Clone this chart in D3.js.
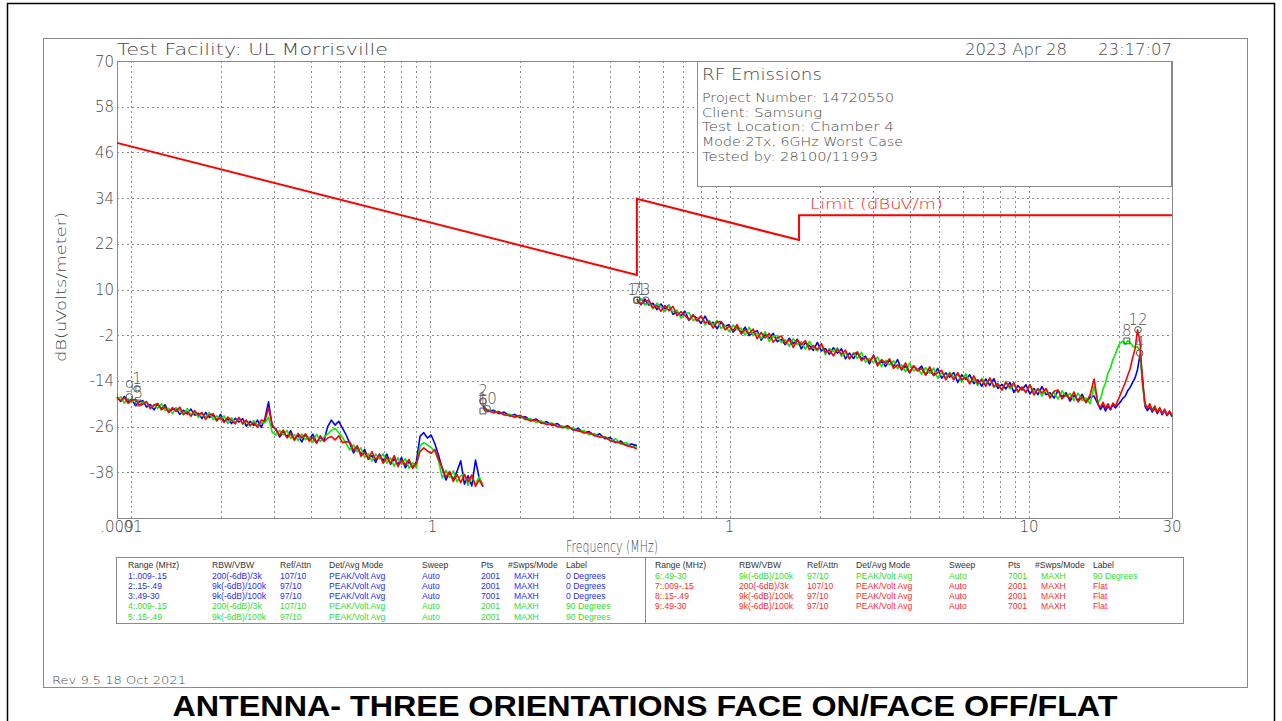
<!DOCTYPE html>
<html>
<head>
<meta charset="utf-8">
<script src="https://cdn.jsdelivr.net/npm/d3@7/dist/d3.min.js"></script>
<style>
  html, body { margin: 0; padding: 0; background: #fff; }
  svg { display: block; }
  .pen { font-family: "DejaVu Sans", sans-serif; font-weight: 200; fill: #474747; }
  .tbl { font-family: "Liberation Sans", "DejaVu Sans", sans-serif; font-size: 8.6px; }
</style>
</head>
<body>
<svg id="chart" width="1282" height="721"></svg>
<script>
// ---------- sweep ranges (MHz) ----------
const rangeLow  = [0.009, 0.15];
const rangeMid  = [0.15, 0.49];
const rangeHigh = [0.49, 17];
const rangePeak = [17, 30];

// ---------- measured levels, dB(uV/m), 0 Degrees (blue) ----------
const blueLow = [-18.2, -19.4, -18.1, -19.4, -18.8, -20.5, -19.5, -19.2, -20.9, -20.2, -21.6, -20.1, -21.3, -20.3, -22.2, -21.5, -21.2, -22.8, -21.7, -22.7, -21.4, -23.0, -22.5, -23.9, -22.3, -23.6, -23.0, -24.5, -22.8, -24.6, -24.0, -25.2, -23.8, -24.8, -23.9, -25.9, -24.6, -25.7, -24.3, -26.2, -24.0, -19.5, -26.0, -26.6, -28.7, -27.5, -28.7, -27.1, -29.4, -28.3, -30.0, -28.1, -29.4, -28.0, -30.2, -28.8, -29.7, -26.0, -24.3, -25.6, -24.6, -26.4, -28.2, -30.4, -32.9, -31.3, -33.3, -32.0, -34.6, -33.6, -35.4, -33.2, -35.0, -33.2, -35.9, -34.5, -36.0, -34.1, -36.8, -35.1, -36.8, -35.2, -28.5, -27.6, -29.0, -28.2, -30.5, -33.5, -37.0, -40.0, -38.0, -40.0, -37.7, -35.0, -41.1, -38.9, -41.6, -34.8, -39.5, -41.8];
const blueMid = [-20.6, -22.0, -21.7, -22.6, -22.2, -23.2, -22.8, -23.7, -23.4, -24.5, -24.0, -25.1, -24.7, -25.7, -25.2, -26.2, -25.8, -26.9, -26.5, -27.6, -27.3, -28.4, -27.9, -29.2, -28.9, -30.2, -29.8, -30.9, -30.6, -31.0];
const blueHigh = [7.5, 6.0, 7.5, 5.9, 6.4, 4.7, 6.2, 4.9, 5.9, 3.5, 4.1, 3.1, 4.3, 1.9, 3.2, 2.5, 1.1, 3.0, 0.9, 1.4, -0.3, 1.5, 0.3, 0.8, -1.2, 0.0, -1.3, 0.1, -2.1, -1.3, -0.8, -3.3, -1.7, -2.8, -1.5, -3.7, -3.1, -4.5, -2.8, -4.2, -3.1, -5.6, -4.0, -4.7, -6.0, -3.9, -6.1, -5.5, -7.0, -5.3, -6.7, -5.6, -8.2, -6.7, -8.1, -6.6, -8.2, -7.5, -9.5, -7.2, -9.6, -8.8, -10.2, -8.6, -10.2, -8.4, -11.1, -10.1, -11.9, -10.1, -11.1, -10.1, -12.4, -11.2, -12.5, -10.7, -13.3, -11.9, -13.0, -11.8, -14.4, -12.4, -13.6, -12.4, -14.7, -13.7, -15.4, -13.5, -15.2, -13.4, -16.0, -14.9, -16.1, -14.4, -17.0, -15.2, -16.4, -15.0, -17.4, -16.0, -17.6, -15.5, -17.6, -17.1, -18.5, -16.5, -18.2, -17.1, -19.3, -17.8, -19.2, -17.5, -19.7, -18.3, -18.0, -20.2];
const bluePeak = [-20.8, -21.5, -20.4, -21.9, -20.6, -21.6, -20.2, -21.1, -20.3, -19.6, -18.6, -18.0, -16.6, -15.7, -14.4, -13.2, -11.0, -7.2, -13.0, -20.6, -21.8, -20.9, -22.2, -21.1, -22.6, -21.4, -22.9, -21.8, -23.1, -22.2, -23.4];

// ---------- 90 Degrees (green) ----------
const greenLow = [-18.9, -18.2, -19.8, -18.7, -19.6, -18.7, -20.5, -19.7, -19.4, -21.3, -20.2, -21.2, -20.0, -21.8, -21.2, -22.6, -21.1, -21.7, -22.9, -21.3, -22.9, -22.0, -23.6, -22.6, -23.5, -22.3, -24.2, -23.2, -24.1, -23.2, -25.2, -23.7, -24.9, -23.7, -25.4, -24.6, -25.9, -24.4, -25.6, -25.0, -25.0, -23.5, -27.5, -28.2, -27.0, -28.1, -27.0, -29.1, -28.1, -29.7, -27.9, -29.4, -28.8, -30.1, -28.0, -29.9, -28.7, -28.0, -27.0, -26.5, -27.6, -28.8, -30.5, -32.1, -30.8, -32.6, -31.6, -34.1, -33.1, -35.1, -33.2, -34.5, -33.1, -35.6, -34.2, -36.4, -34.2, -35.9, -34.4, -36.9, -35.5, -36.9, -31.0, -30.2, -30.8, -31.5, -32.6, -35.0, -39.5, -37.5, -39.4, -37.6, -40.5, -38.9, -38.5, -41.4, -39.2, -41.1, -39.1, -41.3];
const greenMid = [-21.5, -21.5, -22.4, -22.0, -23.0, -22.7, -23.6, -23.2, -24.2, -23.9, -24.9, -24.5, -25.5, -25.0, -26.1, -25.8, -26.6, -26.2, -27.3, -27.0, -28.1, -27.8, -28.8, -28.6, -29.7, -29.2, -30.6, -30.2, -31.4, -31.3];
const greenHigh = [6.6, 7.6, 5.9, 6.5, 4.9, 6.4, 5.5, 4.2, 5.8, 4.1, 4.6, 2.5, 3.7, 3.9, 1.9, 2.2, 3.1, 0.7, 1.9, 0.7, 1.9, -0.2, 0.6, -1.1, 0.7, -0.6, -0.1, -2.0, 0.1, -2.1, -1.4, -2.9, -1.1, -3.6, -2.3, -2.1, -3.9, -3.2, -4.9, -2.9, -4.5, -3.7, -5.7, -3.6, -5.3, -6.1, -4.5, -7.1, -5.5, -6.3, -5.3, -7.6, -6.6, -8.2, -6.6, -8.1, -6.5, -9.1, -8.1, -9.2, -7.7, -10.3, -8.6, -9.8, -8.7, -10.8, -9.8, -11.6, -9.3, -11.4, -10.8, -12.2, -10.5, -12.0, -10.6, -13.3, -11.7, -13.1, -11.7, -13.0, -12.2, -14.3, -12.1, -14.4, -13.5, -15.2, -13.3, -14.9, -13.5, -15.8, -14.6, -16.4, -14.1, -16.1, -15.0, -16.9, -15.8, -17.1, -15.0, -16.9, -16.1, -18.0, -16.0, -17.9, -17.0, -18.8, -16.6, -18.1, -17.3, -19.2, -17.2, -19.2, -18.5, -20.0, -15.5, -19.8];
const greenPeak = [-19.5, -18.6, -16.2, -14.5, -12.0, -10.6, -8.4, -7.0, -5.2, -4.0, -3.6, -4.4, -3.4, -4.0, -4.8, -5.3, -5.0, -6.2, -15.0, -20.2, -21.0, -20.4, -21.6, -20.8, -22.0, -21.2, -22.5, -21.6, -22.8, -22.0, -23.0];

// ---------- Flat (red) ----------
const redLow = [-18.5, -19.2, -18.4, -19.9, -19.1, -18.8, -20.3, -20.1, -19.5, -21.2, -20.4, -19.9, -21.6, -20.8, -22.3, -21.0, -22.0, -20.9, -22.8, -22.1, -23.3, -21.8, -23.0, -22.3, -24.1, -22.9, -22.6, -24.3, -23.7, -24.9, -23.5, -24.4, -25.3, -23.6, -25.2, -24.3, -25.7, -25.0, -26.2, -24.3, -24.6, -21.0, -25.5, -27.0, -28.2, -26.9, -29.0, -27.8, -29.6, -27.8, -29.0, -27.9, -29.8, -28.8, -30.4, -28.4, -29.9, -29.0, -28.6, -29.5, -28.4, -30.2, -30.0, -30.0, -32.3, -31.0, -33.8, -32.8, -34.4, -32.6, -34.7, -33.4, -35.6, -34.1, -35.7, -33.6, -36.5, -34.8, -36.0, -34.6, -36.9, -35.6, -32.5, -31.6, -32.4, -33.0, -32.0, -34.6, -36.8, -39.3, -37.8, -40.4, -38.6, -40.7, -38.6, -40.5, -38.7, -41.7, -40.0, -41.6];
const redMid = [-21.0, -21.9, -22.3, -22.1, -22.9, -23.1, -23.5, -23.0, -24.0, -24.4, -24.3, -25.0, -25.4, -25.3, -25.9, -26.3, -26.0, -26.8, -27.1, -27.6, -27.6, -28.3, -28.7, -28.8, -29.7, -30.1, -30.3, -31.0, -31.3, -31.8];
const redHigh = [7.2, 6.2, 6.9, 7.2, 5.2, 5.8, 4.3, 5.8, 4.4, 5.6, 3.1, 4.2, 3.1, 2.0, 3.4, 1.7, 3.0, 1.3, 1.6, -0.1, 1.5, 1.6, -0.6, 0.4, -0.8, 0.8, -1.7, -0.6, -1.5, -0.4, -2.9, -1.3, -2.7, -1.5, -3.8, -2.7, -2.2, -4.2, -3.1, -5.2, -3.3, -4.5, -3.4, -5.8, -4.7, -5.8, -4.2, -6.5, -5.9, -7.4, -5.6, -7.0, -5.9, -8.2, -6.9, -6.4, -8.7, -7.8, -8.9, -7.4, -10.1, -8.4, -9.4, -8.2, -10.7, -9.8, -10.9, -9.3, -11.8, -10.0, -11.4, -10.7, -12.5, -10.3, -12.6, -11.8, -11.2, -13.7, -12.1, -13.7, -11.8, -13.7, -13.1, -14.8, -12.7, -14.7, -13.7, -15.4, -13.2, -15.4, -14.8, -16.4, -14.4, -15.6, -14.5, -16.9, -15.6, -17.0, -15.0, -17.7, -16.0, -17.2, -16.0, -18.5, -16.7, -16.4, -18.7, -17.6, -18.7, -16.9, -19.5, -18.2, -19.6, -17.7, -13.5, -20.3];
const redPeak = [-19.8, -20.9, -19.6, -21.2, -20.0, -21.4, -19.8, -20.6, -19.2, -17.6, -16.0, -14.5, -12.6, -10.8, -8.0, -5.6, -0.6, -3.5, -14.0, -19.8, -21.2, -20.0, -21.9, -20.6, -22.3, -21.0, -22.6, -21.4, -23.0, -21.9, -23.2];

// ---------- limit line, dB(uV/m) ----------
const limitFreq  = [0.009, 0.49, 0.49, 1.705, 1.705, 30];
const limitLevel = [48.5, 13.8, 33.8, 23.0, 29.5, 29.5];

// ---------- markers ----------
const markerLabel = ["1", "2", "3", "4", "5", "6", "7", "8", "9", "10", "11", "12"];
const markerFreq  = [0.0105, 0.15, 0.525, 23.4, 0.0106, 0.15, 0.49, 21.2, 0.0099, 0.155, 0.49, 23.1];
const markerLevel = [-16.1, -19.3, 7.2, -6.7, -19.8, -21.9, 7.2, -3.5, -18.2, -21.3, 7.2, -0.6];
const markerTrace = ["blue", "blue", "blue", "blue", "green", "green", "green", "green", "red", "red", "red", "red"];

// ---------- axes ----------
const yTickValues = [70, 58, 46, 34, 22, 10, -2, -14, -26, -38];
const xTickValues = [0.009, 0.01, 0.1, 1, 10, 30];
const xTickLabels = [".009", ".01", ".1", "1", "10", "30"];

// ---------- settings table ----------
const tblHeaders  = ["Range (MHz)", "RBW/VBW", "Ref/Attn", "Det/Avg Mode", "Sweep", "Pts", "#Swps/Mode", "Label"];
const tblRange    = ["1:.009-.15", "2:.15-.49", "3:.49-30", "4:.009-.15", "5:.15-.49", "6:.49-30", "7:.009-.15", "8:.15-.49", "9:.49-30"];
const tblRbw      = ["200(-6dB)/3k", "9k(-6dB)/100k", "9k(-6dB)/100k", "200(-6dB)/3k", "9k(-6dB)/100k", "9k(-6dB)/100k", "200(-6dB)/3k", "9k(-6dB)/100k", "9k(-6dB)/100k"];
const tblRefAttn  = ["107/10", "97/10", "97/10", "107/10", "97/10", "97/10", "107/10", "97/10", "97/10"];
const tblDetMode  = ["PEAK/Volt Avg", "PEAK/Volt Avg", "PEAK/Volt Avg", "PEAK/Volt Avg", "PEAK/Volt Avg", "PEAK/Volt Avg", "PEAK/Volt Avg", "PEAK/Volt Avg", "PEAK/Volt Avg"];
const tblSweep    = ["Auto", "Auto", "Auto", "Auto", "Auto", "Auto", "Auto", "Auto", "Auto"];
const tblPts      = ["2001", "2001", "7001", "2001", "2001", "7001", "2001", "2001", "7001"];
const tblSwps     = ["MAXH", "MAXH", "MAXH", "MAXH", "MAXH", "MAXH", "MAXH", "MAXH", "MAXH"];
const tblLabel    = ["0 Degrees", "0 Degrees", "0 Degrees", "90 Degrees", "90 Degrees", "90 Degrees", "Flat", "Flat", "Flat"];
const tblTrace    = ["blue", "blue", "blue", "green", "green", "green", "red", "red", "red"];

const infoLines = ["Project Number: 14720550", "Client: Samsung", "Test Location: Chamber 4", "Mode:2Tx, 6GHz Worst Case", "Tested by: 28100/11993"];

// ---------- drawing ----------
const traceColor = { blue: "#0000ff", green: "#00ee00", red: "#ff0000" };
const textColor  = { blue: "#2b2bff", green: "#2fdc2f", red: "#ff2b2b" };

const svg = d3.select("#chart");
const plot = { left: 117, right: 1172, top: 61, bottom: 518 };

const x = d3.scaleLog().domain([0.009, 30]).range([plot.left, plot.right]);
const y = d3.scaleLinear().domain([-50, 70]).range([plot.bottom, plot.top]);

// page frames
svg.append("rect").attr("x", 7.5).attr("y", 3.5).attr("width", 1267).attr("height", 740)
  .attr("fill", "none").attr("stroke", "#000").attr("stroke-width", 1.5);
svg.append("rect").attr("x", 43.5).attr("y", 38.5).attr("width", 1204).attr("height", 649)
  .attr("fill", "none").attr("stroke", "#8a8a8a").attr("stroke-width", 1);

// grid
const gridStyle = g => g.attr("stroke", "#8c8c8c").attr("stroke-width", 1).attr("stroke-dasharray", "2,3");
const xGrid = x.ticks().filter(f => f > 0.009 * 1.0001 && f < 30 * 0.9999);
svg.append("g").selectAll("line").data(xGrid).join("line")
  .attr("x1", d => Math.round(x(d)) + 0.5).attr("x2", d => Math.round(x(d)) + 0.5)
  .attr("y1", plot.top).attr("y2", plot.bottom).call(gridStyle);
svg.append("g").selectAll("line").data(yTickValues.filter(v => v < 70)).join("line")
  .attr("x1", plot.left).attr("x2", plot.right)
  .attr("y1", d => Math.round(y(d)) + 0.5).attr("y2", d => Math.round(y(d)) + 0.5).call(gridStyle);

// info panel
svg.append("rect").attr("x", 697.5).attr("y", 61.5).attr("width", 474).attr("height", 125)
  .attr("fill", "#fff").attr("stroke", "#8a8a8a");
svg.append("text").attr("class", "pen").attr("x", 702).attr("y", 80)
  .attr("font-size", 15).attr("textLength", 120).attr("lengthAdjust", "spacingAndGlyphs").text("RF Emissions");
const infoWidths = [192, 120, 192, 201, 176];
svg.append("g").selectAll("text").data(infoLines).join("text").attr("class", "pen")
  .attr("x", 702).attr("y", (d, i) => 102 + i * 14.7).attr("font-size", 13)
  .attr("textLength", (d, i) => infoWidths[i]).attr("lengthAdjust", "spacingAndGlyphs").text(d => d);

// plot border
svg.append("rect").attr("x", plot.left + 0.5).attr("y", plot.top + 0.5)
  .attr("width", plot.right - plot.left).attr("height", plot.bottom - plot.top)
  .attr("fill", "none").attr("stroke", "#8a8a8a");

// y tick labels
svg.append("g").selectAll("text").data(yTickValues).join("text").attr("class", "pen")
  .attr("x", 114).attr("y", d => y(d) + 5.5).attr("text-anchor", "end")
  .attr("font-size", 15).text(d => d);

// x tick labels
svg.append("g").selectAll("text").data(xTickValues).join("text").attr("class", "pen")
  .attr("x", d => x(d)).attr("y", 532).attr("text-anchor", "middle")
  .attr("font-size", 15).text((d, i) => xTickLabels[i]);

// axis titles and header texts
svg.append("text").attr("class", "pen").attr("x", 612).attr("y", 552).attr("text-anchor", "middle")
  .attr("font-size", 15).attr("textLength", 92).attr("lengthAdjust", "spacingAndGlyphs").text("Frequency (MHz)");
svg.append("text").attr("class", "pen").attr("transform", "translate(66,287) rotate(-90)")
  .attr("text-anchor", "middle").attr("font-size", 14).attr("textLength", 150)
  .attr("lengthAdjust", "spacingAndGlyphs").text("dB(uVolts/meter)");
svg.append("text").attr("class", "pen").attr("x", 117).attr("y", 55).attr("font-size", 15)
  .attr("textLength", 271).attr("lengthAdjust", "spacingAndGlyphs").text("Test Facility: UL Morrisville");
svg.append("text").attr("class", "pen").attr("x", 965).attr("y", 55).attr("font-size", 15)
  .attr("textLength", 102).attr("lengthAdjust", "spacingAndGlyphs").text("2023 Apr 28");
svg.append("text").attr("class", "pen").attr("x", 1098).attr("y", 55).attr("font-size", 15)
  .attr("textLength", 74).attr("lengthAdjust", "spacingAndGlyphs").text("23:17:07");

// limit line
const limitLine = d3.line().x(d => x(d[0])).y(d => y(d[1]));
svg.append("path").datum(limitFreq.map((f, i) => [f, limitLevel[i]]))
  .attr("d", limitLine).attr("fill", "none").attr("stroke", "#ff0000").attr("stroke-width", 2);
svg.append("text").attr("class", "pen").attr("x", 810).attr("y", 209).attr("font-size", 14)
  .attr("textLength", 133).attr("lengthAdjust", "spacingAndGlyphs").style("fill", "#ff2020").text("Limit (dBuV/m)");

// traces: sweep points are spread evenly (log) across each range
function sweep(range, levels) {
  const n = levels.length;
  return levels.map((v, i) => [range[0] * Math.pow(range[1] / range[0], i / (n - 1)), v]);
}
const traces = [
  { key: "blue",  parts: [[rangeLow, blueLow], [rangeMid, blueMid], [rangeHigh, blueHigh, rangePeak, bluePeak]] },
  { key: "green", parts: [[rangeLow, greenLow], [rangeMid, greenMid], [rangeHigh, greenHigh, rangePeak, greenPeak]] },
  { key: "red",   parts: [[rangeLow, redLow], [rangeMid, redMid], [rangeHigh, redHigh, rangePeak, redPeak]] }
];
const traceLine = d3.line().x(d => x(d[0])).y(d => y(d[1]));
const traceG = svg.append("g");
traces.forEach(t => {
  t.parts.forEach(p => {
    let pts = sweep(p[0], p[1]);
    if (p.length > 2) pts = pts.concat(sweep(p[2], p[3]).slice(1));
    traceG.append("path").datum(pts).attr("d", traceLine)
      .attr("fill", "none").attr("stroke", traceColor[t.key]).attr("stroke-width", 1.6)
      .attr("stroke-linejoin", "round");
  });
});

// markers
const mk = svg.append("g");
markerLabel.forEach((lab, i) => {
  const mx = x(markerFreq[i]), my = y(markerLevel[i]);
  const shape = markerTrace[i] === "green" ? d3.symbolSquare : d3.symbolCircle;
  mk.append("path").attr("transform", `translate(${mx},${my})`)
    .attr("d", d3.symbol().type(shape).size(34)())
    .attr("fill", "none").attr("stroke", "#555").attr("stroke-width", 1);
  mk.append("text").attr("class", "pen").attr("x", mx).attr("y", my - 5)
    .attr("text-anchor", "middle").attr("font-size", 15).style("fill", "#555").text(lab);
});

// settings table
const tbl = svg.append("g").attr("class", "tbl");
tbl.append("rect").attr("x", 116.5).attr("y", 557.5).attr("width", 1067).attr("height", 66)
  .attr("fill", "none").attr("stroke", "#8a8a8a");
tbl.append("line").attr("x1", 645.5).attr("x2", 645.5).attr("y1", 557.5).attr("y2", 623.5).attr("stroke", "#8a8a8a");
const colX = [128, 212, 280, 329, 422, 481, 508, 566];
const halfShift = 527;
[0, halfShift].forEach(dx => {
  tblHeaders.forEach((h, c) => {
    tbl.append("text").attr("x", colX[c] + dx).attr("y", 568).attr("fill", "#333").text(h);
  });
});
tblRange.forEach((r, i) => {
  const dx = i < 5 ? 0 : halfShift;
  const row = i < 5 ? i : i - 5;
  const yy = 578.5 + row * 10.3;
  const cells = [tblRange[i], tblRbw[i], tblRefAttn[i], tblDetMode[i], tblSweep[i], tblPts[i], tblSwps[i], tblLabel[i]];
  cells.forEach((c, k) => {
    tbl.append("text").attr("x", colX[k] + dx + (k === 6 ? 6 : 0)).attr("y", yy)
      .attr("fill", textColor[tblTrace[i]]).text(c);
  });
});

// footer
svg.append("text").attr("class", "pen").attr("x", 52).attr("y", 684).attr("font-size", 10.5)
  .attr("textLength", 134).attr("lengthAdjust", "spacingAndGlyphs").text("Rev 9.5 18 Oct 2021");
svg.append("text").attr("x", 645).attr("y", 716).attr("text-anchor", "middle")
  .attr("font-family", "'Liberation Sans', Arial, sans-serif").attr("font-weight", "bold")
  .attr("font-size", 30).attr("textLength", 945).attr("lengthAdjust", "spacingAndGlyphs")
  .attr("fill", "#000").text("ANTENNA- THREE ORIENTATIONS FACE ON/FACE OFF/FLAT");
</script>
</body>
</html>
